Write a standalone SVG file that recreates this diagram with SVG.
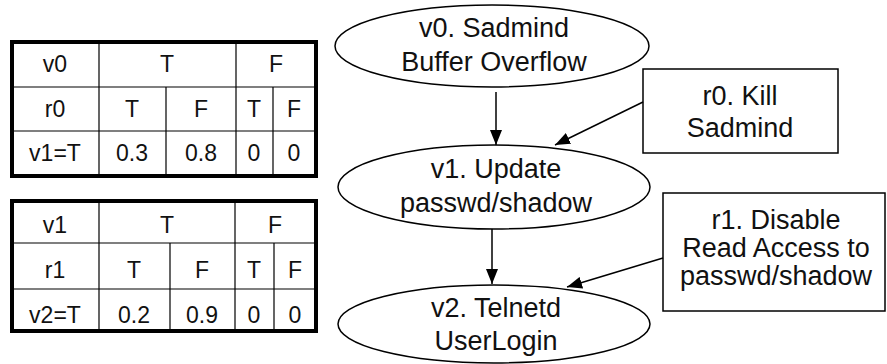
<svg xmlns="http://www.w3.org/2000/svg" width="887" height="364" viewBox="0 0 887 364">
<style>
.node{fill:#fff;stroke:#000;stroke-width:1.5}
.lbl{font-family:"Liberation Sans",Arial,sans-serif;font-size:27px;fill:#111;text-anchor:middle}
.tb{font-family:"Liberation Sans",Arial,sans-serif;font-size:23px;fill:#111;text-anchor:middle}
.outer{fill:#fff;stroke:#000;stroke-width:4}
.grid{stroke:#000;stroke-width:1.2;fill:none}
.edge{stroke:#000;stroke-width:1.5;fill:none;marker-end:url(#ah)}
</style>
<defs>
<marker id="ah" markerWidth="16" markerHeight="12" refX="15" refY="6" orient="auto" markerUnits="userSpaceOnUse">
<path d="M0,0 L15,6 L0,12 Z" fill="#000"/>
</marker>
</defs>
<rect width="887" height="364" fill="#fff"/>

<g id="table0">
<rect class="outer" x="12" y="42" width="304" height="134"/>
<path class="grid" d="M12,87 H316 M12,131 H316 M99,42 V176 M236,42 V176 M166,87 V176 M273,87 V176"/>
<text class="tb" x="55" y="72">v0</text>
<text class="tb" x="167" y="72">T</text>
<text class="tb" x="276" y="72">F</text>
<text class="tb" x="55" y="117">r0</text>
<text class="tb" x="132" y="117">T</text>
<text class="tb" x="201" y="117">F</text>
<text class="tb" x="254" y="117">T</text>
<text class="tb" x="294" y="117">F</text>
<text class="tb" x="55" y="161">v1=T</text>
<text class="tb" x="132" y="161">0.3</text>
<text class="tb" x="201" y="161">0.8</text>
<text class="tb" x="254" y="161">0</text>
<text class="tb" x="294" y="161">0</text>
</g>

<g id="table1">
<rect class="outer" x="12" y="201" width="304" height="130"/>
<path class="grid" d="M12,243 H316 M12,289 H316 M99,201 V331 M235,201 V331 M170,243 V331 M274,243 V331"/>
<text class="tb" x="55" y="233">v1</text>
<text class="tb" x="167" y="233">T</text>
<text class="tb" x="275" y="233">F</text>
<text class="tb" x="55" y="278">r1</text>
<text class="tb" x="134" y="278">T</text>
<text class="tb" x="202" y="278">F</text>
<text class="tb" x="254" y="278">T</text>
<text class="tb" x="295" y="278">F</text>
<text class="tb" x="55" y="323">v2=T</text>
<text class="tb" x="134" y="323">0.2</text>
<text class="tb" x="202" y="323">0.9</text>
<text class="tb" x="254" y="323">0</text>
<text class="tb" x="295" y="323">0</text>
</g>

<g id="v0">
<ellipse class="node" cx="492" cy="46" rx="157" ry="41"/>
<text class="lbl" x="494" y="37">v0. Sadmind</text>
<text class="lbl" x="494" y="71">Buffer Overflow</text>
</g>

<g id="v1">
<ellipse class="node" cx="494" cy="187" rx="156" ry="42"/>
<text class="lbl" x="496" y="178">v1. Update</text>
<text class="lbl" x="496" y="212">passwd/shadow</text>
</g>

<g id="v2">
<ellipse class="node" cx="494" cy="324" rx="156" ry="39"/>
<text class="lbl" x="496" y="317">v2. Telnetd</text>
<text class="lbl" x="496" y="350">UserLogin</text>
</g>

<g id="r0">
<rect class="node" x="643" y="69" width="195" height="84"/>
<text class="lbl" x="740" y="105">r0. Kill</text>
<text class="lbl" x="740" y="137">Sadmind</text>
</g>

<g id="r1">
<rect class="node" x="663" y="193" width="222" height="118"/>
<text class="lbl" x="776" y="229">r1. Disable</text>
<text class="lbl" x="776" y="257">Read Access to</text>
<text class="lbl" x="776" y="285">passwd/shadow</text>
</g>

<g id="connectors">
<line class="edge" x1="496" y1="92" x2="496" y2="145"/>
<line class="edge" x1="643" y1="102" x2="555" y2="145"/>
<line class="edge" x1="492" y1="229" x2="492" y2="284"/>
<line class="edge" x1="663" y1="258" x2="567" y2="287"/>
</g>
</svg>
